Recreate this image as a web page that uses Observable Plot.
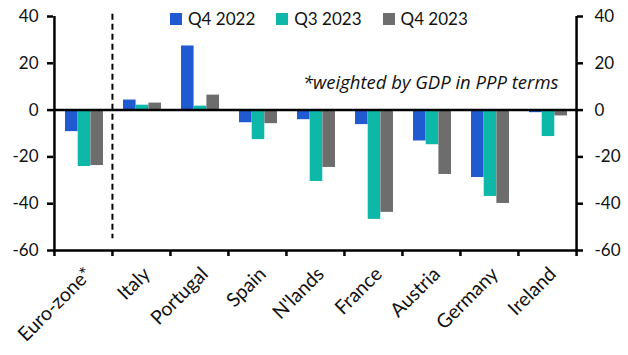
<!DOCTYPE html>
<html><head><meta charset="utf-8">
<script src="https://cdn.jsdelivr.net/npm/d3@7"></script>
<script src="https://cdn.jsdelivr.net/npm/@observablehq/plot@0.6"></script>
<style>
body{margin:0;background:#fff;}
#wrap{position:relative;width:628px;height:355px;font-family:Lato,"Open Sans",sans-serif;}
#legend{position:absolute;left:170px;top:8px;display:flex;font-size:17px;color:#111;}
#legend .it{display:flex;align-items:center;margin-right:21px;}
#legend .sw{width:12px;height:12px;margin-right:6px;}
</style></head>
<body><div id="wrap"><div id="legend"></div></div>
<script>
const countries = ["Euro-zone*","Italy","Portugal","Spain","N'lands","France","Austria","Germany","Ireland"];
const seriesNames = ["Q4 2022","Q3 2023","Q4 2023"];
const q4_2022 = [-9.2, 4.3, 27.4, -5.4, -4.1, -6.2, -13.2, -28.8, -1.1];
const q3_2023 = [-24.1, 2.1, 1.7, -12.6, -30.5, -46.7, -14.8, -36.9, -11.3];
const q4_2023 = [-23.7, 3.0, 6.4, -5.8, -24.5, -43.7, -27.5, -39.9, -2.5];
const colors = ["#1f5ad0","#0db8a8","#6d6d6d"];
const yTicks = [-60,-40,-20,0,20,40];
const note = "*weighted by GDP in PPP terms";
const dividerRange = [41, -55];

const seriesValues = [q4_2022, q3_2023, q4_2023];
const W = 628, H = 355, mL = 53, mR = 52, mT = 16, mB = 105;
const bw = (W - mL - mR) / countries.length;
const barW = 12.7, groupPad = 11;

const data = [];
seriesNames.forEach((s, i) => countries.forEach((c, j) => data.push({country: c, series: s, value: seriesValues[i][j]})));

const barMarks = seriesNames.map((s, i) => Plot.barY(data.filter(d => d.series === s), {
  x: "country", y: "value", fill: colors[i],
  insetLeft: groupPad + barW * i,
  insetRight: bw - groupPad - barW * (i + 1)
}));

const fmt = d => String(d);
const chart = Plot.plot({
  width: W, height: H, marginLeft: mL, marginRight: mR, marginTop: mT, marginBottom: mB,
  style: {fontFamily: "Lato, 'Open Sans', sans-serif", fontSize: "17px", color: "#111", background: "#fff"},
  x: {domain: countries, padding: 0, axis: null},
  y: {domain: [-60, 40], axis: null},
  marks: [
    ...barMarks,
    Plot.ruleY([0], {stroke: "#000", strokeWidth: 2.5}),
    Plot.ruleY([-60], {stroke: "#000", strokeWidth: 2.5}),
    Plot.ruleX([countries[0]], {dx: -bw/2, stroke: "#000", strokeWidth: 2.5}),
    Plot.ruleX([countries[countries.length-1]], {dx: bw/2, stroke: "#000", strokeWidth: 2.5}),
    Plot.ruleX(countries, {dx: -bw/2, y1: -60, y2: -60, insetTop: 0, insetBottom: -6, stroke: "#000", strokeWidth: 2.5}),
    Plot.ruleX([countries[countries.length-1]], {dx: bw/2, y1: -60, y2: -60, insetTop: 0, insetBottom: -6, stroke: "#000", strokeWidth: 2.5}),
    Plot.ruleX([countries[1]], {dx: -bw/2, y1: dividerRange[0], y2: dividerRange[1], stroke: "#000", strokeWidth: 2, strokeDasharray: "6,4"}),
    Plot.axisY(yTicks, {anchor: "left", label: null, tickSize: 6, tickPadding: 9, tickFormat: fmt, stroke: "#000", strokeWidth: 2.5, fontSize: 17}),
    Plot.axisY(yTicks, {anchor: "right", label: null, tickSize: 6, tickPadding: 12, tickFormat: fmt, stroke: "#000", strokeWidth: 2.5, fontSize: 17}),
    Plot.text(countries, {x: d => d, y: -60, dx: 0, dy: 15, rotate: -45, textAnchor: "end", lineAnchor: "top", fontSize: 19.5, fill: "#111"}),
    Plot.text([note], {frameAnchor: "top-right", dx: -18, dy: 59, fontStyle: "italic", fontFamily: "'Open Sans', sans-serif", fontSize: 18.5, textAnchor: "end", fill: "#111"})
  ]
});
document.getElementById("wrap").appendChild(chart);

const legend = document.getElementById("legend");
seriesNames.forEach((s, i) => {
  const it = document.createElement("div"); it.className = "it";
  const sw = document.createElement("div"); sw.className = "sw"; sw.style.background = colors[i];
  const tx = document.createElement("span"); tx.textContent = s;
  it.appendChild(sw); it.appendChild(tx); legend.appendChild(it);
});
</script></body></html>
